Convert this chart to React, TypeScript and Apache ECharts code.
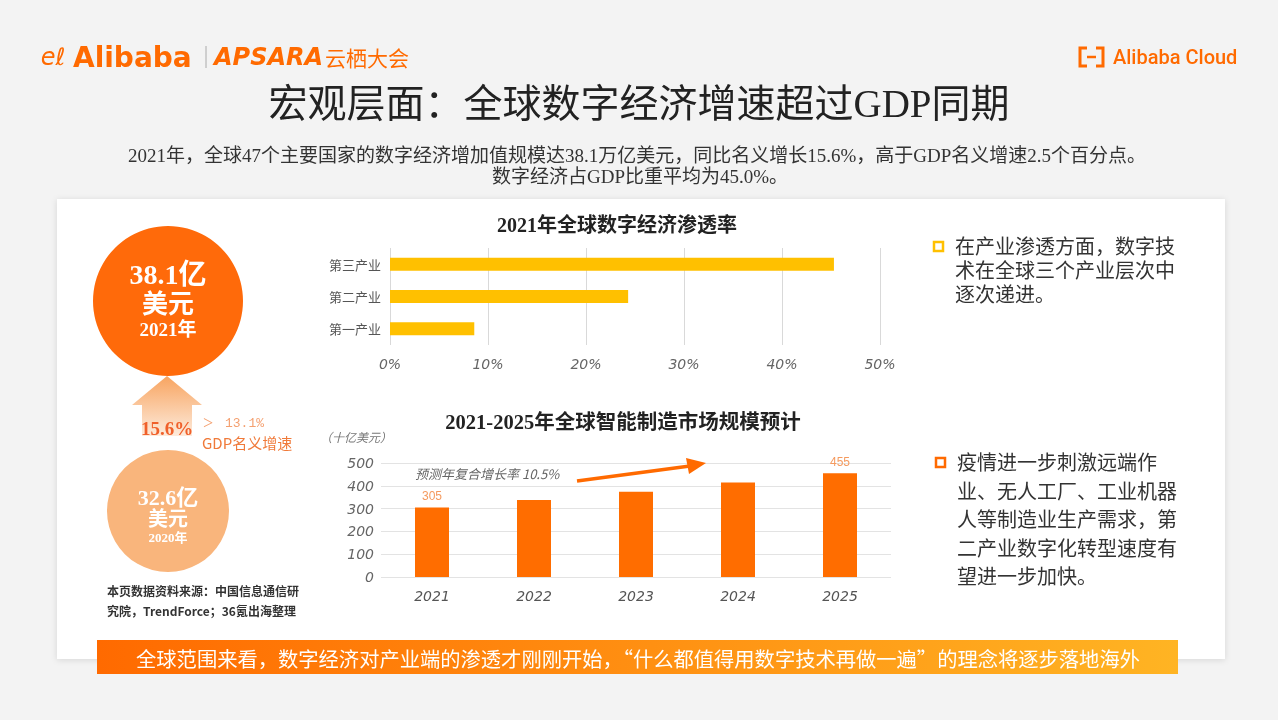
import React, { useEffect, useRef } from "react";
import * as echarts from "echarts";

const penetrationCategories = ["第一产业", "第二产业", "第三产业"];
const penetrationValues = [8.6, 24.3, 45.3];
const penetrationTicks = [0, 10, 20, 30, 40, 50];

const marketYears = ["2021", "2022", "2023", "2024", "2025"];
const marketValues = [305, 338, 374, 415, 455];
const marketLabelled = [0, 4];

const bullet1Lines = ["在产业渗透方面，数字技", "术在全球三个产业层次中", "逐次递进。"];
const bullet2Lines = [
  "疫情进一步刺激远端作",
  "业、无人工厂、工业机器",
  "人等制造业生产需求，第",
  "二产业数字化转型速度有",
  "望进一步加快。",
];

const ORANGE = "#FF6A00";
const SERIF = "'Liberation Serif', 'Noto Sans CJK SC', serif";
const SANS = "'Noto Sans CJK SC', sans-serif";

function txt(x: number, y: number, text: string, style: any, extra: any = {}) {
  return {
    type: "text",
    x,
    y,
    z: 50,
    style: {
      text,
      textAlign: "center",
      textVerticalAlign: "middle",
      fontFamily: SANS,
      fill: "#333",
      ...style,
    },
    ...extra,
  };
}

export default function App() {
  const ref = useRef<HTMLDivElement>(null);
  useEffect(() => {
    const chart = echarts.init(ref.current!, undefined, { renderer: "svg" });

    const graphics: any[] = [
      { type: "rect", z: -10, shape: { x: 0, y: 0, width: 1278, height: 720 }, style: { fill: "#f3f3f3" } },
      {
        type: "rect",
        z: -9,
        shape: { x: 57, y: 199, width: 1168, height: 460 },
        style: { fill: "#ffffff", shadowBlur: 6, shadowColor: "rgba(0,0,0,0.12)", shadowOffsetY: 1 },
      },
      // Alibaba logo
      txt(53, 57, "eℓ", { fill: ORANGE, fontSize: 24, fontStyle: "italic", fontFamily: "'DejaVu Sans'" }),
      txt(73, 57, "Alibaba", { fill: ORANGE, fontSize: 28, fontWeight: "bold", fontFamily: "'DejaVu Sans'", textAlign: "left" }),
      { type: "line", z: 50, shape: { x1: 206, y1: 46, x2: 206, y2: 68 }, style: { stroke: "#aaa", lineWidth: 1 } },
      txt(214, 57, "APSARA", { fill: ORANGE, fontSize: 24, fontWeight: "bold", fontStyle: "italic", fontFamily: "'DejaVu Sans'", textAlign: "left" }),
      txt(325, 57, "云栖大会", { fill: ORANGE, fontSize: 21, textAlign: "left" }),
      // Alibaba Cloud logo
      { type: "polyline", z: 50, shape: { points: [[1087, 48], [1080, 48], [1080, 66], [1087, 66]] }, style: { stroke: ORANGE, lineWidth: 3, fill: null } },
      { type: "polyline", z: 50, shape: { points: [[1096, 48], [1103, 48], [1103, 66], [1096, 66]] }, style: { stroke: ORANGE, lineWidth: 3, fill: null } },
      { type: "line", z: 50, shape: { x1: 1087, y1: 57, x2: 1096, y2: 57 }, style: { stroke: ORANGE, lineWidth: 2.5 } },
      txt(1113, 57, "Alibaba Cloud", { fill: ORANGE, fontSize: 20, fontFamily: "Roboto", textAlign: "left", fontWeight: 500 }),
      // main title
      txt(639, 103, "宏观层面：全球数字经济增速超过GDP同期", { fontSize: 39, fontFamily: SERIF, fill: "#222" }),
      txt(637, 155, "2021年，全球47个主要国家的数字经济增加值规模达38.1万亿美元，同比名义增长15.6%，高于GDP名义增速2.5个百分点。", {
        fontSize: 19,
        fontFamily: SERIF,
        fill: "#333",
      }),
      txt(640, 176, "数字经济占GDP比重平均为45.0%。", { fontSize: 19, fontFamily: SERIF, fill: "#333" }),
      // chart titles
      txt(617, 225, "2021年全球数字经济渗透率", { fontSize: 20, fontWeight: "bold", fontFamily: SERIF, fill: "#222" }),
      txt(623, 422, "2021-2025年全球智能制造市场规模预计", { fontSize: 20.5, fontWeight: "bold", fontFamily: SERIF, fill: "#222" }),
      txt(356, 436, "（十亿美元）", { fontSize: 12, fontStyle: "italic", fill: "#777" }),
      txt(415, 473, "预测年复合增长率 10.5%", { fontSize: 13, fontStyle: "italic", fill: "#666", textAlign: "left" }),
      // growth arrow in chart 2
      { type: "line", z: 50, shape: { x1: 577, y1: 481, x2: 690, y2: 466 }, style: { stroke: ORANGE, lineWidth: 3.5 } },
      { type: "polygon", z: 50, shape: { points: [[706, 463], [686, 458], [689, 474]] }, style: { fill: ORANGE } },
      // big circle 2021
      { type: "circle", z: 10, shape: { cx: 168, cy: 301, r: 75 }, style: { fill: "#FF6A0A" } },
      txt(168, 274, "38.1亿", { fontSize: 28, fill: "#fff", fontFamily: SERIF, fontWeight: "bold" }),
      txt(168, 304, "美元", { fontSize: 26, fill: "#fff", fontFamily: SERIF, fontWeight: "bold" }),
      txt(168, 329, "2021年", { fontSize: 19, fill: "#fff", fontWeight: "bold", fontFamily: SERIF }),
      // up arrow
      {
        type: "polygon",
        z: 10,
        shape: { points: [[167, 376], [202, 405], [192, 405], [192, 436], [142, 436], [142, 405], [132, 405]] },
        style: {
          fill: new echarts.graphic.LinearGradient(0, 0, 0, 1, [
            { offset: 0, color: "#F8A460" },
            { offset: 1, color: "#FDEBDC" },
          ]),
        },
      },
      txt(167, 428, "15.6%", { fontSize: 19, fill: "#F0602A", fontWeight: "bold", fontFamily: SERIF }),
      txt(203, 423, ">", { fontSize: 18, fill: "#F4A070", textAlign: "left", fontFamily: SERIF }),
      txt(225, 423, "13.1%", { fontSize: 13, fill: "#F4A070", textAlign: "left", fontFamily: "'Liberation Mono'" }),
      txt(202, 442, "GDP名义增速", { fontSize: 15, fill: "#F07A3A", textAlign: "left" }),
      // small circle 2020
      { type: "circle", z: 10, shape: { cx: 168, cy: 511, r: 61 }, style: { fill: "#F9B57C" } },
      txt(168, 497, "32.6亿", { fontSize: 22, fill: "#fff", fontFamily: SERIF, fontWeight: "bold" }),
      txt(168, 519, "美元", { fontSize: 20, fill: "#fff", fontFamily: SERIF, fontWeight: "bold" }),
      txt(168, 537, "2020年", { fontSize: 13, fill: "#fff", fontWeight: "bold", fontFamily: SERIF }),
      // source
      txt(107, 590, "本页数据资料来源：中国信息通信研", { fontSize: 12, fill: "#333", textAlign: "left", fontWeight: "bold" }),
      txt(107, 610, "究院，TrendForce；36氪出海整理", { fontSize: 12, fill: "#333", textAlign: "left", fontWeight: "bold" }),
      // bullets
      { type: "rect", z: 50, shape: { x: 934, y: 242, width: 9, height: 9 }, style: { fill: "none", stroke: "#FFC000", lineWidth: 2.5 } },
      { type: "rect", z: 50, shape: { x: 936, y: 458, width: 9, height: 9 }, style: { fill: "none", stroke: ORANGE, lineWidth: 2.5 } },
      // bottom banner
      {
        type: "rect",
        z: 20,
        shape: { x: 97, y: 640, width: 1081, height: 34 },
        style: {
          fill: new echarts.graphic.LinearGradient(0, 0, 1, 0, [
            { offset: 0, color: "#FF6A00" },
            { offset: 1, color: "#FFB423" },
          ]),
        },
      },
      txt(638, 658, "全球范围来看，数字经济对产业端的渗透才刚刚开始，“什么都值得用数字技术再做一遍”的理念将逐步落地海外", {
        fontSize: 20.3,
        fill: "#fff",
      }),
    ];
    bullet1Lines.forEach((l, i) => graphics.push(txt(955, 247 + i * 24, l, { fontSize: 20, textAlign: "left", fill: "#333", fontFamily: SERIF })));
    bullet2Lines.forEach((l, i) => graphics.push(txt(957, 463 + i * 28.6, l, { fontSize: 20, textAlign: "left", fill: "#333", fontFamily: SERIF })));

    const axisItalic = { fontStyle: "italic", color: "#666", fontSize: 14, fontFamily: "'DejaVu Sans'" };

    chart.setOption({
      animation: false,
      graphic: { elements: graphics },
      grid: [
        { left: 390, top: 248, width: 490, height: 97, containLabel: false },
        { left: 381, top: 463, width: 510, height: 114, containLabel: false },
      ],
      xAxis: [
        {
          type: "value",
          gridIndex: 0,
          min: penetrationTicks[0],
          max: penetrationTicks[penetrationTicks.length - 1],
          interval: 10,
          axisLine: { show: false },
          axisTick: { show: false },
          splitLine: { show: true, lineStyle: { color: "#d9d9d9" } },
          axisLabel: { ...axisItalic, formatter: "{value}%", margin: 12 },
        },
        {
          type: "category",
          gridIndex: 1,
          data: marketYears,
          axisLine: { show: false },
          axisTick: { show: false },
          axisLabel: { ...axisItalic, color: "#555", margin: 12 },
        },
      ],
      yAxis: [
        {
          type: "category",
          gridIndex: 0,
          data: penetrationCategories,
          axisLine: { show: false },
          axisTick: { show: false },
          axisLabel: { color: "#555", fontSize: 13, margin: 9, fontFamily: SANS },
        },
        {
          type: "value",
          gridIndex: 1,
          min: 0,
          max: 500,
          interval: 100,
          axisLine: { show: false },
          axisTick: { show: false },
          splitLine: { show: true, lineStyle: { color: "#e3e3e3" } },
          axisLabel: { ...axisItalic, margin: 7 },
        },
      ],
      series: [
        {
          type: "bar",
          xAxisIndex: 0,
          yAxisIndex: 0,
          data: penetrationValues,
          barWidth: 13,
          itemStyle: { color: "#FFC000" },
          z: 30,
        },
        {
          type: "bar",
          xAxisIndex: 1,
          yAxisIndex: 1,
          data: marketValues.map((v, i) => ({
            value: v,
            label: {
              show: marketLabelled.includes(i),
              position: "top",
              color: "#F59A5E",
              fontSize: 12,
              distance: 5,
              fontFamily: "'Liberation Sans Narrow', 'Liberation Sans'",
            },
          })),
          barWidth: 34,
          itemStyle: { color: "#FF6D00" },
          z: 30,
        },
      ],
    });
    return () => chart.dispose();
  }, []);
  return <div ref={ref} style={{ position: "fixed", left: 0, top: 0, width: 1278, height: 720 }} />;
}
